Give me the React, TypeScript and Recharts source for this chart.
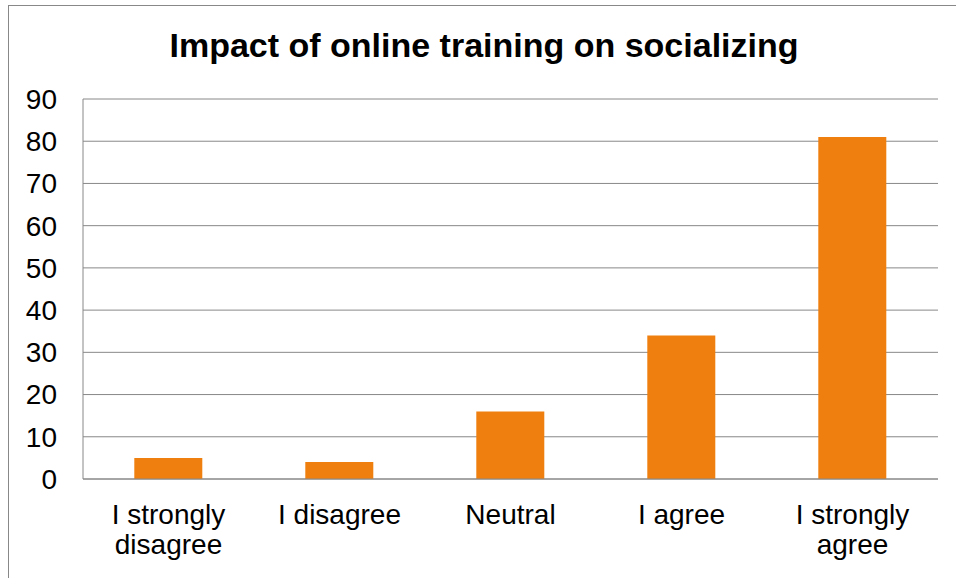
import { BarChart, Bar, XAxis, YAxis, CartesianGrid } from "recharts"

const categories = ["I strongly disagree", "I disagree", "Neutral", "I agree", "I strongly agree"]
const responses = [5, 4, 16, 34, 81]
const yTicks = [0, 10, 20, 30, 40, 50, 60, 70, 80, 90]
const title = "Impact of online training on socializing"

const data = categories.map((name, i) => ({ name, value: responses[i] }))

const font = "'Liberation Sans', Arial, sans-serif"

// long labels wrap at the last space, like the original
function CategoryTick(props: any) {
  const { x, y, payload } = props
  const label: string = payload.value
  let lines = [label]
  if (label.length > 12) {
    const cut = label.lastIndexOf(" ")
    lines = [label.slice(0, cut), label.slice(cut + 1)]
  }
  return (
    <text x={x} y={y + 37} textAnchor="middle" fill="#000" fontSize={28} fontFamily={font}>
      {lines.map((l, i) => (
        <tspan key={i} x={x} dy={i === 0 ? 0 : 30}>
          {l}
        </tspan>
      ))}
    </text>
  )
}

export default function App() {
  return (
    <div style={{ position: "fixed", left: 0, top: 0, width: 956, height: 578, overflow: "hidden", background: "#fff" }}>
      <div style={{ position: "absolute", left: 8, top: 5, width: 1000, height: 1000, border: "1px solid #888" }} />
      <svg width={956} height={80} style={{ position: "absolute", left: 0, top: 0 }}>
        <text x={484} y={57} textAnchor="middle" fontSize={34} fontWeight="bold" fontFamily={font} fill="#000">
          {title}
        </text>
      </svg>
      <div style={{ position: "absolute", left: 0, top: 0 }}>
        <BarChart width={956} height={578} data={data} margin={{ top: 99, right: 18, bottom: 0, left: 0 }} barCategoryGap="30%">
          <CartesianGrid vertical={false} stroke="#888" />
          <XAxis dataKey="name" height={99} axisLine={{ stroke: "#888" }} tickLine={false} tick={<CategoryTick />} interval={0} />
          <YAxis
            width={83}
            domain={[0, 90]}
            ticks={yTicks}
            axisLine={{ stroke: "#888" }}
            tickLine={false}
            tickSize={6}
            tickMargin={20}
            tick={{ fill: "#000", fontSize: 28, fontFamily: font }}
          />
          <Bar dataKey="value" fill="#EF7F0F" isAnimationActive={false} />
        </BarChart>
      </div>
    </div>
  )
}
